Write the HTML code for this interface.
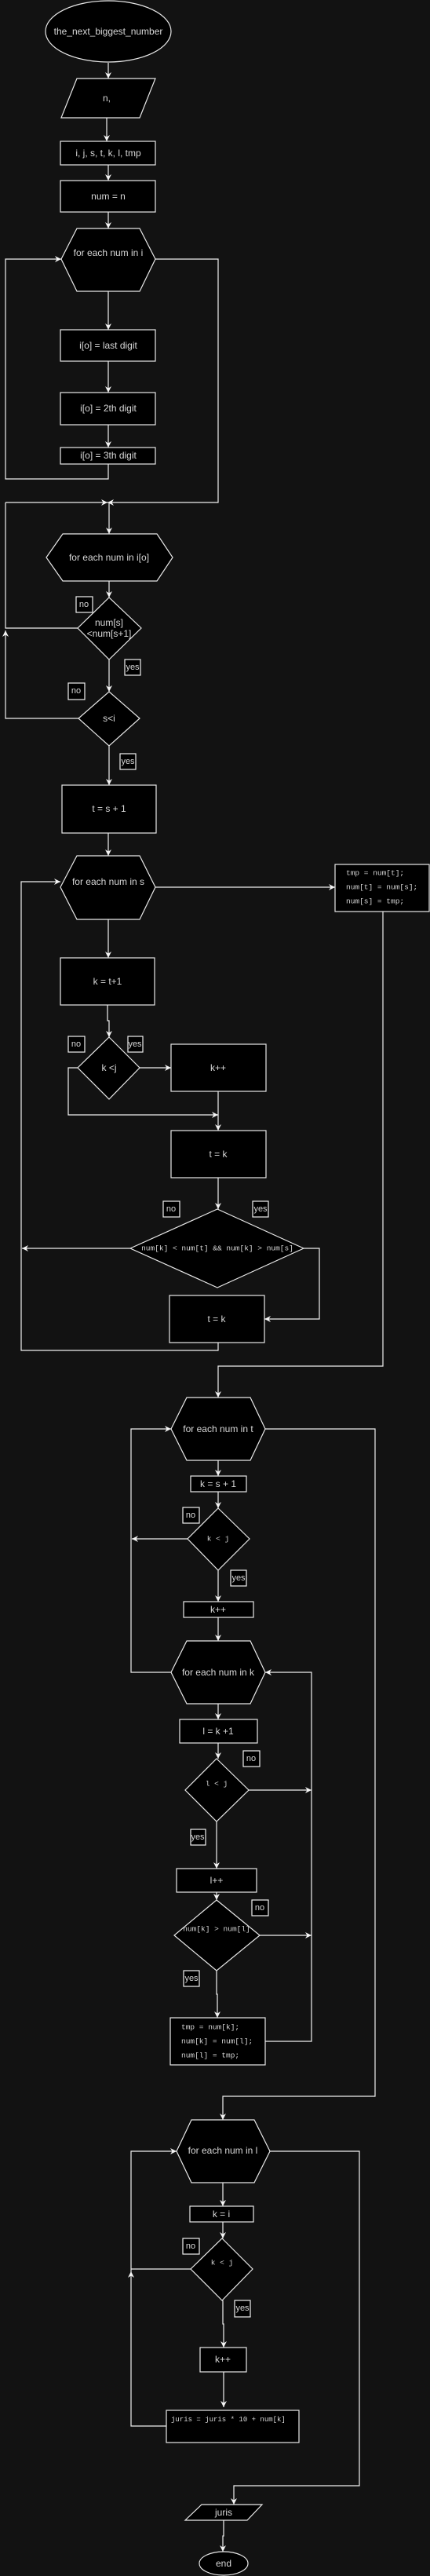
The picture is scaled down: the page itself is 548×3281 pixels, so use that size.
<!DOCTYPE html>
<html><head><meta charset="utf-8"><style>
html,body{margin:0;padding:0;background:#121212;}
svg{display:block;}
text{font-family:"Liberation Sans",sans-serif;font-size:12px;fill:#d8d8d8;text-anchor:middle;dominant-baseline:central;}
.m{font-family:"Liberation Mono",monospace;font-size:9.5px;}
.s{fill:#000;stroke:#e8e8e8;stroke-width:1.2;}
.l{fill:none;stroke:#f0f0f0;stroke-width:1.2;}
.b{fill:#000;stroke:#f0f0f0;stroke-width:1.2;}
.lb{font-size:11px;}
</style></head><body>
<svg width="548" height="3281" viewBox="0 0 548 3281" xmlns="http://www.w3.org/2000/svg">
<defs><marker id="a" markerUnits="userSpaceOnUse" markerWidth="10" markerHeight="10" refX="8" refY="4" orient="auto"><path d="M0,0 L8,4 L0,8 L2.5,4 z" fill="#f4f4f4"/></marker></defs>

<!-- connectors -->
<g class="l" marker-end="url(#a)">
<path d="M138,80 V100"/>
<path d="M136,150 V180"/>
<path d="M138,210 V230"/>
<path d="M138,270 V291"/>
<path d="M138,371 V420"/>
<path d="M138,460 V500"/>
<path d="M138,541 V570"/>
<path d="M138,591 V610 H7 V330 H78"/>
<path d="M198,330 H278 V640 H137"/>
<path d="M7,640 H137"/>
<path d="M139,640 V680"/>
<path d="M139,740 V761"/>
<path d="M99,800 H7 V640" marker-end="none"/>
<path d="M100,915 H7 V803"/>
<path d="M139,840 V881"/>
<path d="M139,950 V1000"/>
<path d="M138,1061 V1090"/>
<path d="M198,1130 H427"/>
<path d="M138,1171 V1220"/>
<path d="M137,1280 V1300 H139 V1321"/>
<path d="M178,1360 H218"/>
<path d="M99,1360 H87 V1420 H278"/>
<path d="M278,1390 V1440"/>
<path d="M278,1500 V1540"/>
<path d="M166,1590 H28"/>
<path d="M387,1590 H407 V1680 H337"/>
<path d="M278,1710 V1720 H27 V1123 H77"/>
<path d="M488,1161 V1740 H278 V1780"/>
<path d="M278,1860 V1880"/>
<path d="M278,1900 V1921"/>
<path d="M239,1960 H168"/>
<path d="M278,1980 V2040"/>
<path d="M278,2060 V2090"/>
<path d="M218,2130 H167 V1820 H218"/>
<path d="M338,1820 H478 V2670 H284 V2700"/>
<path d="M278,2170 V2190"/>
<path d="M278,2220 V2240"/>
<path d="M317,2280 H397"/>
<path d="M338,2600 H397 V2130 H338"/>
<path d="M276,2320 V2380"/>
<path d="M276,2410 V2420"/>
<path d="M331,2465 H397"/>
<path d="M276,2510 V2540 H277 V2570"/>
<path d="M284,2780 V2810"/>
<path d="M284,2830 V2851"/>
<path d="M243,2890 H167" marker-end="none"/>
<path d="M212,3090 H167 V2893"/>
<path d="M167,2893 V2740 H225"/>
<path d="M284,2930 V2960 H285 V2990"/>
<path d="M285,3021 V3066"/>
<path d="M344,2740 H458 V3166 H298 V3190"/>
<path d="M285,3210 V3230 H284 V3250"/>
</g>

<!-- shapes -->
<ellipse class="s" cx="138" cy="40" rx="80" ry="39"/>
<text x="138" y="40">the_next_biggest_number</text>
<polygon class="s" points="98,100 198,100 178,150 78,150"/>
<text x="136" y="125">n,</text>
<rect class="s" x="77" y="180" width="121" height="30"/>
<text x="138" y="195">i, j, s, t, k, l, tmp</text>
<rect class="s" x="77" y="230" width="121" height="40"/>
<text x="138" y="250">num = n</text>
<polygon class="s" points="78,330 98,291 178,291 198,330 178,371 98,371"/>
<text x="138" y="322">for each num in i</text>
<rect class="s" x="77" y="420" width="121" height="40"/>
<text x="138" y="440">i[o] = last digit</text>
<rect class="s" x="77" y="500" width="121" height="41"/>
<text x="138" y="520">i[o] = 2th digit</text>
<rect class="s" x="77" y="570" width="121" height="21"/>
<text x="138" y="580">i[o] = 3th digit</text>

<polygon class="s" points="59,710 80,680 200,680 220,710 200,740 80,740"/>
<text x="139" y="710">for each num in i[o]</text>
<polygon class="s" points="139,761 180,800 139,840 99,800"/>
<text x="139" y="793">num[s]</text>
<text x="139" y="807">&lt;num[s+1]</text>
<rect class="b" x="97" y="760" width="21" height="20"/><text class="lb" x="107" y="770">no</text>
<rect class="b" x="159" y="840" width="20" height="20"/><text class="lb" x="169" y="850">yes</text>
<rect class="b" x="87" y="870" width="21" height="21"/><text class="lb" x="97" y="880">no</text>
<polygon class="s" points="139,881 178,915 139,950 100,915"/>
<text x="139" y="915">s&lt;i</text>
<rect class="b" x="153" y="960" width="20" height="20"/><text class="lb" x="163" y="970">yes</text>
<rect class="s" x="79" y="1000" width="120" height="61"/>
<text x="139" y="1030">t = s + 1</text>
<polygon class="s" points="77,1130 98,1090 178,1090 198,1130 178,1171 98,1171"/>
<text x="138" y="1123">for each num in s</text>
<rect class="s" x="427" y="1101" width="120" height="60"/>
<text class="m" x="441" y="1112" style="text-anchor:start">tmp = num[t];</text>
<text class="m" x="441" y="1130" style="text-anchor:start">num[t] = num[s];</text>
<text class="m" x="441" y="1148" style="text-anchor:start">num[s] = tmp;</text>
<rect class="s" x="77" y="1220" width="120" height="60"/>
<text x="137" y="1250">k = t+1</text>
<polygon class="s" points="139,1321 178,1360 139,1400 99,1360"/>
<text x="139" y="1360">k &lt;j</text>
<rect class="b" x="87" y="1320" width="21" height="20"/><text class="lb" x="97" y="1330">no</text>
<rect class="b" x="163" y="1320" width="19" height="20"/><text class="lb" x="172" y="1330">yes</text>
<rect class="s" x="218" y="1330" width="121" height="60"/>
<text x="278" y="1360">k++</text>
<rect class="s" x="218" y="1440" width="121" height="60"/>
<text x="278" y="1470">t = k</text>
<rect class="b" x="208" y="1530" width="21" height="20"/><text class="lb" x="218" y="1540">no</text>
<rect class="b" x="322" y="1530" width="20" height="20"/><text class="lb" x="332" y="1540">yes</text>
<polygon class="s" points="277,1540 387,1590 277,1640 166,1590"/>
<text class="m" x="277" y="1590">num[k] &lt; num[t] &amp;&amp; num[k] &gt; num[s]</text>
<rect class="s" x="216" y="1650" width="121" height="60"/>
<text x="276" y="1680">t = k</text>

<polygon class="s" points="218,1820 238,1780 319,1780 338,1820 319,1860 238,1860"/>
<text x="278" y="1820">for each num in t</text>
<rect class="s" x="243" y="1880" width="71" height="20"/>
<text x="278" y="1890">k = s + 1</text>
<polygon class="s" points="278,1921 318,1960 278,1980 239,1960" style="display:none"/>
<polygon class="s" points="278,1921 318,1960 278,2000 239,1960"/>
<text class="m" x="278" y="1960">k &lt; j</text>
<rect class="b" x="233" y="1920" width="21" height="20"/><text class="lb" x="243" y="1930">no</text>
<rect class="b" x="294" y="2000" width="20" height="20"/><text class="lb" x="304" y="2010">yes</text>
<rect class="s" x="234" y="2040" width="89" height="20"/>
<text x="278" y="2050">k++</text>
<polygon class="s" points="218,2130 238,2090 319,2090 338,2130 319,2170 238,2170"/>
<text x="278" y="2130">for each num in k</text>
<rect class="s" x="229" y="2190" width="99" height="30"/>
<text x="278" y="2205">l = k +1</text>
<polygon class="s" points="276,2240 317,2280 276,2320 236,2280"/>
<text class="m" x="276" y="2272">l &lt; j</text>
<rect class="b" x="310" y="2230" width="21" height="20"/><text class="lb" x="320" y="2240">no</text>
<rect class="b" x="243" y="2330" width="19" height="20"/><text class="lb" x="252" y="2340">yes</text>
<rect class="s" x="225" y="2380" width="102" height="30"/>
<text x="276" y="2395">l++</text>
<polygon class="s" points="276,2420 331,2465 276,2510 222,2465"/>
<text class="m" x="276" y="2457">num[k] &gt; num[l]</text>
<rect class="b" x="321" y="2420" width="21" height="20"/><text class="lb" x="331" y="2430">no</text>
<rect class="b" x="234" y="2510" width="20" height="20"/><text class="lb" x="244" y="2520">yes</text>
<rect class="s" x="217" y="2570" width="121" height="60"/>
<text class="m" x="231" y="2582" style="text-anchor:start">tmp = num[k];</text>
<text class="m" x="231" y="2600" style="text-anchor:start">num[k] = num[l];</text>
<text class="m" x="231" y="2618" style="text-anchor:start">num[l] = tmp;</text>

<polygon class="s" points="225,2740 244,2700 324,2700 344,2740 324,2780 244,2780"/>
<text x="284" y="2739">for each num in l</text>
<rect class="s" x="242" y="2810" width="81" height="20"/>
<text x="282" y="2820">k = i</text>
<polygon class="s" points="283,2851 322,2890 283,2930 243,2890"/>
<text class="m" x="283" y="2882">k &lt; j</text>
<rect class="b" x="233" y="2851" width="21" height="20"/><text class="lb" x="243" y="2861">no</text>
<rect class="b" x="299" y="2930" width="20" height="21"/><text class="lb" x="309" y="2940">yes</text>
<rect class="s" x="255" y="2990" width="59" height="31"/>
<text x="284" y="3005">k++</text>
<rect class="s" x="212" y="3070" width="169" height="41"/>
<text class="m" x="218" y="3082" style="text-anchor:start;font-size:9px">juris = juris * 10 + num[k]</text>
<polygon class="s" points="257,3190 334,3190 315,3210 236,3210"/>
<text x="285" y="3200">juris</text>
<ellipse class="s" cx="285" cy="3265" rx="31" ry="15"/>
<text x="285" y="3265">end</text>
</svg>
</body></html>
